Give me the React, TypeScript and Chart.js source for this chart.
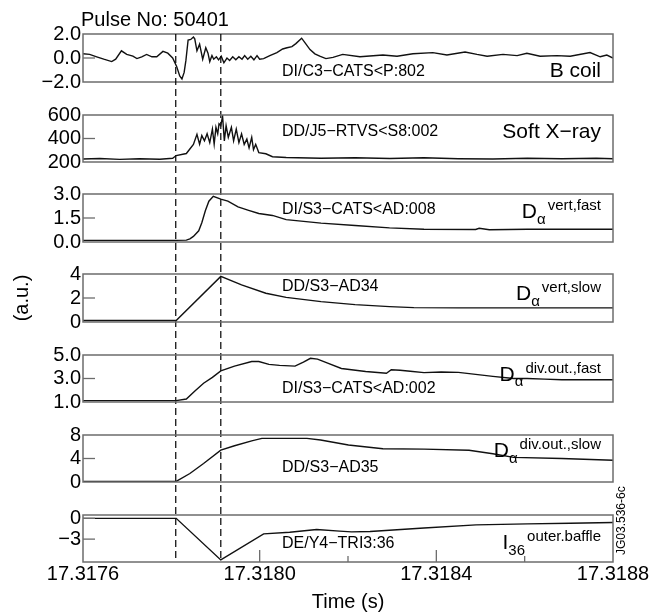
import React, { useEffect, useRef } from "react";
import { Chart, registerables } from "chart.js";

Chart.register(...registerables);

const W = 667;
const H = 616;
const FONT = '"Liberation Sans", Arial, Helvetica, sans-serif';

// ---- time axis ----
const T0 = 17.3176; // s, times below are microseconds after T0
const xMin = 17.3176;
const xMax = 17.3188;
const xTickValues = [17.3176, 17.318, 17.3184, 17.3188];
const xTickLabels = ["17.3176", "17.3180", "17.3184", "17.3188"];
const xInnerMajor = [17.318, 17.3184];
const xInnerMinor = [17.3182, 17.3186];
const markerTimes = [17.31781, 17.317912];

// ---- B coil (DI/C3-CATS<P:802) ----
const bcoilUs = [0, 15, 31, 47, 65, 74, 87, 99, 113, 122, 133, 144, 156, 167, 181, 192, 203, 212, 219, 224, 229, 233, 238, 244, 250, 253, 258, 264, 271, 278, 283, 287, 292, 296, 302, 307, 313, 319, 326, 332, 339, 346, 353, 360, 366, 373, 380, 387, 394, 400, 409, 423, 439, 452, 462, 473, 482, 495, 502, 514, 525, 536, 550, 566, 588, 627, 679, 711, 747, 792, 824, 865, 892, 915, 951, 983, 1005, 1035, 1073, 1103, 1148, 1171, 1186, 1200];
const bcoilVal = [0.35, 0.3, 0.1, -0.1, -0.3, -0.1, 0.6, 0.3, 0.15, -0.05, 0.1, 0.3, 0.1, 0.1, 0.55, 0.4, 0.0, -0.7, -1.5, -1.75, -1.2, -0.2, 1.5, 1.55, 1.75, 1.6, 0.6, 1.15, -0.1, 0.85, 0.4, -0.3, 0.2, -0.1, 0.1, -0.15, 0.15, -0.4, 0.0, -0.2, 0.1, -0.15, 0.1, -0.1, 0.2, -0.1, 0.15, -0.15, 0.2, -0.1, -0.05, 0.2, 0.45, 0.75, 0.85, 0.95, 1.2, 1.65, 1.3, 0.7, 0.35, 0.15, -0.05, 0.05, 0.3, 0.1, 0.25, 0.15, 0.35, 0.45, 0.25, 0.5, 0.3, 0.15, 0.3, 0.2, 0.4, 0.15, 0.2, 0.15, 0.45, 0.1, 0.25, 0.0];

// ---- Soft X-ray (DD/J5-RTVS<S8:002) ----
const sxrUs = [0, 38, 83, 128, 174, 203, 211, 234, 250, 258, 264, 269, 275, 281, 287, 293, 297, 301, 305, 308, 312, 316, 320, 324, 329, 336, 341, 347, 353, 359, 365, 371, 376, 382, 386, 391, 398, 414, 429, 460, 539, 616, 695, 772, 850, 928, 1006, 1084, 1162, 1200];
const sxrVal = [225, 230, 222, 228, 224, 232, 255, 272, 350, 435, 352, 425, 380, 440, 365, 480, 352, 495, 440, 525, 510, 590, 380, 510, 410, 495, 380, 480, 365, 440, 350, 395, 320, 410, 305, 350, 280, 270, 245, 238, 232, 236, 230, 236, 228, 226, 232, 228, 232, 228];

// ---- D-alpha vert, fast (DI/S3-CATS<AD:008) ----
const dvfUs = [0, 211, 234, 242, 250, 262, 269, 277, 285, 295, 312, 328, 351, 375, 398, 429, 460, 539, 616, 694, 772, 889, 897, 920, 1006, 1200];
const dvfVal = [0.1, 0.1, 0.12, 0.2, 0.35, 0.7, 1.2, 1.95, 2.55, 2.85, 2.68, 2.55, 2.2, 1.98, 1.78, 1.66, 1.4, 1.18, 1.03, 0.88, 0.8, 0.78, 0.86, 0.77, 0.8, 0.8];

// ---- D-alpha vert, slow (DD/S3-AD34) ----
const dvsUs = [0, 211, 312, 359, 414, 460, 539, 616, 694, 749, 850, 1200];
const dvsVal = [0.12, 0.12, 3.8, 3.1, 2.4, 2.05, 1.7, 1.45, 1.28, 1.2, 1.18, 1.18];

// ---- D-alpha div.out., fast (DI/S3-CATS<AD:002) ----
const ddfUs = [0, 211, 234, 254, 273, 293, 312, 343, 382, 398, 421, 445, 480, 499, 515, 531, 554, 585, 640, 687, 698, 718, 741, 772, 811, 850, 889, 928, 975, 1006, 1045, 1084, 1200];
const ddfVal = [1.12, 1.12, 1.25, 1.95, 2.6, 3.1, 3.65, 4.05, 4.45, 4.45, 4.2, 4.12, 4.05, 4.4, 4.72, 4.65, 4.3, 3.85, 3.6, 3.45, 3.75, 3.7, 3.62, 3.5, 3.55, 3.52, 3.35, 3.18, 3.0, 3.0, 2.95, 2.9, 2.9];

// ---- D-alpha div.out., slow (DD/S3-AD35) ----
const ddsUs = [0, 211, 242, 273, 312, 343, 382, 405, 507, 538, 601, 679, 772, 874, 928, 975, 1084, 1200];
const ddsVal = [0.1, 0.1, 1.45, 3.15, 5.43, 6.17, 7.0, 7.43, 7.43, 7.15, 6.3, 5.65, 5.6, 5.4, 4.8, 4.2, 4.0, 3.7];

// ---- I36 outer baffle (DE/Y4-TRI3:36) ----
const i36Us = [0, 211, 312, 409, 468, 529, 581, 608, 650, 772, 890, 1006, 1103, 1200];
const i36Val = [0, 0, -6.0, -2.25, -2.0, -1.62, -1.85, -1.95, -1.9, -1.4, -0.95, -0.8, -0.7, -0.6];

// ---- layout (page pixels) ----
const PLOT_LEFT = 83;
const PLOT_RIGHT = 613;
const LABEL_RIGHT = 601;
const SIGNAL_X = 282;

type Lab = { main: string; sub?: string; sup?: string };
type Panel = {
  us: number[];
  val: number[];
  min: number;
  max: number;
  ticks: number[];
  tickText: string[];
  top: number;
  bottom: number;
  signal: string;
  sigY: number;
  lab: Lab;
  labY: number;
};

const panels: Panel[] = [
  { us: bcoilUs, val: bcoilVal, min: -2, max: 2, ticks: [-2, 0, 2], tickText: ["\u22122.0", "0.0", "2.0"], top: 34, bottom: 82, signal: "DI/C3\u2212CATS<P:802", sigY: 76, lab: { main: "B coil" }, labY: 77.3 },
  { us: sxrUs, val: sxrVal, min: 200, max: 600, ticks: [200, 400, 600], tickText: ["200", "400", "600"], top: 115, bottom: 162, signal: "DD/J5\u2212RTVS<S8:002", sigY: 136, lab: { main: "Soft X\u2212ray" }, labY: 137.7 },
  { us: dvfUs, val: dvfVal, min: 0, max: 3, ticks: [0, 1.5, 3], tickText: ["0.0", "1.5", "3.0"], top: 194, bottom: 242, signal: "DI/S3\u2212CATS<AD:008", sigY: 214.3, lab: { main: "D", sub: "\u03b1", sup: "vert,fast" }, labY: 218 },
  { us: dvsUs, val: dvsVal, min: 0, max: 4, ticks: [0, 2, 4], tickText: ["0", "2", "4"], top: 274, bottom: 322, signal: "DD/S3\u2212AD34", sigY: 290.7, lab: { main: "D", sub: "\u03b1", sup: "vert,slow" }, labY: 300 },
  { us: ddfUs, val: ddfVal, min: 1, max: 5, ticks: [1, 3, 5], tickText: ["1.0", "3.0", "5.0"], top: 355, bottom: 402, signal: "DI/S3\u2212CATS<AD:002", sigY: 393.3, lab: { main: "D", sub: "\u03b1", sup: "div.out.,fast" }, labY: 380.7 },
  { us: ddsUs, val: ddsVal, min: 0, max: 8, ticks: [0, 4, 8], tickText: ["0", "4", "8"], top: 435, bottom: 482, signal: "DD/S3\u2212AD35", sigY: 471.7, lab: { main: "D", sub: "\u03b1", sup: "div.out.,slow" }, labY: 457 },
  { us: i36Us, val: i36Val, min: -6.3, max: 0.48, ticks: [-3, 0], tickText: ["\u22123", "0"], top: 515, bottom: 562, signal: "DE/Y4\u2212TRI3:36", sigY: 547.7, lab: { main: "I", sub: "36", sup: "outer.baffle" }, labY: 549 },
];

const BOX = "#6c6c6c";
const INK = "#111";

function drawLab(ctx: CanvasRenderingContext2D, lab: Lab, y: number) {
  ctx.fillStyle = "#000";
  ctx.textBaseline = "alphabetic";
  if (!lab.sub) {
    ctx.font = `21px ${FONT}`;
    ctx.textAlign = "right";
    ctx.fillText(lab.main, LABEL_RIGHT, y);
    return;
  }
  ctx.font = `15px ${FONT}`;
  const wsup = ctx.measureText(lab.sup || "").width;
  const wsub = ctx.measureText(lab.sub).width;
  ctx.font = `21px ${FONT}`;
  const wm = ctx.measureText(lab.main).width;
  const supX = LABEL_RIGHT - wsup;
  const subX = supX - 2 - wsub;
  const mainX = subX - wm;
  ctx.textAlign = "left";
  ctx.fillText(lab.main, mainX, y);
  ctx.font = `15px ${FONT}`;
  ctx.fillText(lab.sub, subX, y + 5.5);
  ctx.fillText(lab.sup || "", supX, y - 8);
}

function makeChart(canvas: HTMLCanvasElement, p: Panel, idx: number): Chart {
  const isFirst = idx === 0;
  const isLast = idx === panels.length - 1;
  const deco = {
    id: "deco" + idx,
    afterDraw(chart: any) {
      const { ctx, chartArea: a, scales } = chart;
      const xs = scales.x;
      const ys = scales.y;
      ctx.save();
      // panel box
      ctx.strokeStyle = BOX;
      ctx.lineWidth = 1.5;
      ctx.setLineDash([]);
      ctx.strokeRect(a.left, a.top, a.right - a.left, a.bottom - a.top);
      // inward y ticks
      ctx.lineWidth = 1.3;
      p.ticks.forEach((v) => {
        if (v > p.min && v < p.max) {
          const py = ys.getPixelForValue(v);
          ctx.beginPath();
          ctx.moveTo(a.left, py);
          ctx.lineTo(a.left + 12, py);
          ctx.stroke();
        }
      });
      if (isLast) {
        xInnerMajor.forEach((v) => {
          const px = xs.getPixelForValue(v);
          ctx.beginPath();
          ctx.moveTo(px, a.bottom);
          ctx.lineTo(px, a.bottom - 12);
          ctx.stroke();
        });
        xInnerMinor.forEach((v) => {
          const px = xs.getPixelForValue(v);
          ctx.beginPath();
          ctx.moveTo(px, a.bottom);
          ctx.lineTo(px, a.bottom - 6);
          ctx.stroke();
        });
      }
      // texts
      ctx.fillStyle = "#000";
      ctx.font = `16px ${FONT}`;
      ctx.textAlign = "left";
      ctx.textBaseline = "alphabetic";
      ctx.fillText(p.signal, SIGNAL_X, p.sigY);
      drawLab(ctx, p.lab, p.labY);

      if (isFirst) {
        // dashed event markers across all panels
        ctx.strokeStyle = "#000";
        ctx.lineWidth = 1.2;
        ctx.setLineDash([7, 4]);
        markerTimes.forEach((t) => {
          const px = xs.getPixelForValue(t);
          ctx.beginPath();
          ctx.moveTo(px, panels[0].top);
          ctx.lineTo(px, panels[panels.length - 1].bottom);
          ctx.stroke();
        });
        ctx.setLineDash([]);
        ctx.fillStyle = "#000";
        ctx.font = `20px ${FONT}`;
        ctx.textAlign = "left";
        ctx.fillText("Pulse No: 50401", 81, 26);
        // y title
        ctx.save();
        ctx.translate(22.5, 298);
        ctx.rotate(-Math.PI / 2);
        ctx.textAlign = "center";
        ctx.textBaseline = "middle";
        ctx.font = `20px ${FONT}`;
        ctx.fillText("(a.u.)", 0, 0);
        ctx.restore();
      }
      if (isLast) {
        ctx.fillStyle = "#000";
        ctx.font = `20px ${FONT}`;
        ctx.textAlign = "center";
        ctx.textBaseline = "alphabetic";
        ctx.fillText("Time (s)", (a.left + a.right) / 2, 607.5);
        ctx.save();
        ctx.translate(625, 555);
        ctx.rotate(-Math.PI / 2);
        ctx.textAlign = "left";
        ctx.font = `12px ${FONT}`;
        ctx.fillText("JG03.536-6c", 0, 0);
        ctx.restore();
      }
      ctx.restore();
    },
  };

  return new Chart(canvas, {
    type: "line",
    data: {
      datasets: [
        {
          data: p.us.map((u, i) => ({ x: T0 + u * 1e-6, y: p.val[i] })),
          borderColor: INK,
          borderWidth: 1.4,
          pointRadius: 0,
          tension: 0,
          fill: false,
        },
      ],
    },
    options: {
      responsive: false,
      animation: false,
      devicePixelRatio: 1,
      events: [],
      layout: {
        padding: {
          left: 0,
          right: W - PLOT_RIGHT,
          top: p.top,
          bottom: 0,
        },
      },
      plugins: {
        legend: { display: false },
        tooltip: { enabled: false },
        title: { display: false },
      },
      scales: {
        x: {
          type: "linear",
          min: xMin,
          max: xMax,
          display: isLast,
          grid: { display: false, drawTicks: false },
          border: { display: false },
          afterBuildTicks: (s: any) => {
            s.ticks = xTickValues.map((v) => ({ value: v }));
          },
          afterFit: (s: any) => {
            s.height = H - p.bottom;
          },
          ticks: {
            callback: (_v: any, i: number) => xTickLabels[i],
            font: { size: 20, family: FONT },
            color: "#000",
            padding: 0,
            maxRotation: 0,
            autoSkip: false,
          },
        },
        y: {
          type: "linear",
          min: p.min,
          max: p.max,
          grid: { display: false, drawTicks: false },
          border: { display: false },
          afterBuildTicks: (s: any) => {
            s.ticks = p.ticks.map((v) => ({ value: v }));
          },
          afterFit: (s: any) => {
            s.width = PLOT_LEFT;
          },
          ticks: {
            callback: (_v: any, i: number) => p.tickText[i],
            font: { size: 20, family: FONT },
            color: "#000",
            padding: 2,
            autoSkip: false,
          },
        },
      },
    },
    plugins: [deco],
  } as any);
}

export default function App() {
  const refs = useRef<(HTMLCanvasElement | null)[]>([]);
  useEffect(() => {
    const charts = panels.map((p, i) => makeChart(refs.current[i] as HTMLCanvasElement, p, i));
    return () => charts.forEach((c) => c.destroy());
  }, []);
  return (
    <div style={{ position: "absolute", left: 0, top: 0, width: W, height: H, background: "#fff" }}>
      {panels.map((_p, i) => (
        <canvas
          key={i}
          ref={(el) => {
            refs.current[i] = el;
          }}
          width={W}
          height={H}
          style={{ position: "absolute", left: 0, top: 0, width: W, height: H }}
        />
      ))}
    </div>
  );
}
